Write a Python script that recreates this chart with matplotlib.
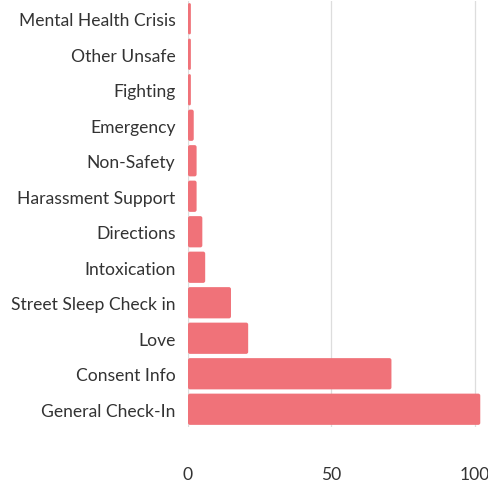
import matplotlib.pyplot as plt
from matplotlib.patches import FancyBboxPatch

categories = ['Mental Health Crisis', 'Other Unsafe', 'Fighting', 'Emergency',
              'Non-Safety', 'Harassment Support', 'Directions', 'Intoxication',
              'Street Sleep Check in', 'Love', 'Consent Info', 'General Check-In']
counts = [1, 1, 1, 2, 3, 3, 5, 6, 15, 21, 71, 102]
ticks = [0, 50, 100]

plt.rcParams['font.family'] = ['Lato', 'DejaVu Sans']

fig = plt.figure(figsize=(4.88, 4.85), dpi=100)
ax = fig.add_axes([188 / 488, 1 - 428 / 485, (486 - 188) / 488, 426 / 485])

color = '#f07279'
bars = ax.barh(range(len(categories)), counts, height=0.88, color=color)

# swap plain rectangles for slightly rounded ones
xpx = 2.86
ypx = 35.3
for b in bars:
    b.set_visible(False)
    x, y = b.get_x(), b.get_y()
    w, h = b.get_width(), b.get_height()
    r = min(0.7, w / 2)
    p = FancyBboxPatch((x, y), w, h,
                       boxstyle=f'round,pad=0,rounding_size={r}',
                       mutation_aspect=xpx / ypx,
                       facecolor=color, edgecolor='none', zorder=3)
    ax.add_patch(p)

ax.set_ylim(len(categories) - 0.5, -0.5)
ax.set_xlim(0, 104)
ax.set_yticks(range(len(categories)))
ax.set_yticklabels(categories, fontsize=12.6, color='#333333')
ax.set_xticks(ticks)
ax.set_xticklabels([str(t) for t in ticks], fontsize=12.6, color='#333333')
ax.tick_params(axis='y', length=0, pad=9)
ax.tick_params(axis='x', length=0, pad=28)

ax.grid(axis='x', color='#dddddd', linewidth=0.9, zorder=0)
ax.set_axisbelow(True)
for s in ax.spines.values():
    s.set_visible(False)

fig.savefig('out.png', dpi=100)
